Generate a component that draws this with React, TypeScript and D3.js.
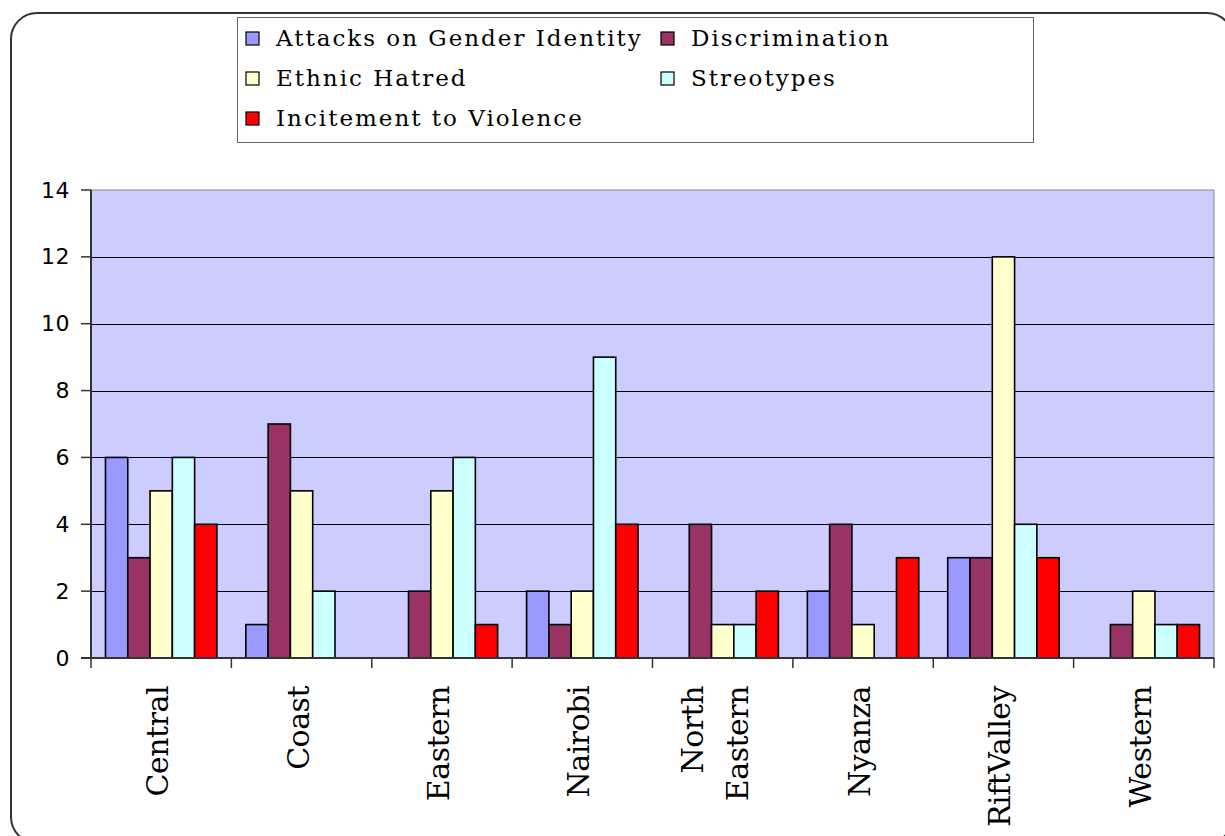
import React from "react";
import * as d3 from "d3";

const categories = ["Central", "Coast", "Eastern", "Nairobi", "North Eastern", "Nyanza", "RiftValley", "Western"];
const series = ["Attacks on Gender Identity", "Discrimination", "Ethnic Hatred", "Streotypes", "Incitement to Violence"];
const colors = ["#9999FF", "#993366", "#FFFFCC", "#CCFFFF", "#FF0000"];
const attacks = [6, 1, 0, 2, 0, 2, 3, 0];
const discrimination = [3, 7, 2, 1, 4, 4, 3, 1];
const ethnicHatred = [5, 5, 5, 2, 1, 1, 12, 2];
const streotypes = [6, 2, 6, 9, 1, 0, 4, 1];
const incitement = [4, 0, 1, 4, 2, 3, 3, 1];
const values = [attacks, discrimination, ethnicHatred, streotypes, incitement];
const yTicks = [0, 2, 4, 6, 8, 10, 12, 14];

const W = 1225, H = 836;
const plot = { left: 91, right: 1214, top: 190, bottom: 658 };

export default function App() {
  const x0 = d3.scaleBand<string>().domain(categories).range([plot.left, plot.right]).paddingInner(0).paddingOuter(0);
  const x1 = d3.scaleBand<string>().domain(series).range([0, x0.bandwidth()]).paddingInner(0).paddingOuter(0.65);
  const y = d3.scaleLinear().domain([0, 14]).range([plot.bottom, plot.top]);

  const legendItems = [
    { i: 0, x: 246, y: 38 },
    { i: 1, x: 661, y: 38 },
    { i: 2, x: 246, y: 78 },
    { i: 3, x: 661, y: 78 },
    { i: 4, x: 246, y: 118 },
  ];

  return (
    <svg width={W} height={H} style={{ position: "absolute", left: 0, top: 0, background: "#fff" }}>
      <rect x={11} y={13} width={1222} height={830} rx={26} ry={26} fill="#fff" stroke="#333" strokeWidth={2} />
      {/* legend */}
      <rect x={237.5} y={17.5} width={796} height={125} fill="#fff" stroke="#666" strokeWidth={1} />
      {legendItems.map((it) => (
        <g key={it.i}>
          <rect x={it.x} y={it.y - 6} width={13} height={13} fill={colors[it.i]} stroke="#000" strokeWidth={1.2} />
          <text x={it.x + 30} y={it.y} dominantBaseline="central" fontFamily="DejaVu Serif" fontSize={23} letterSpacing={2} fill="#000">
            {series[it.i]}
          </text>
        </g>
      ))}
      {/* plot area */}
      <rect x={plot.left} y={plot.top} width={plot.right - plot.left} height={plot.bottom - plot.top} fill="#CCCCFF" stroke="#888" strokeWidth={1} />
      {yTicks.filter((t) => t > 0 && t < 14).map((t) => (
        <line key={t} x1={plot.left} x2={plot.right} y1={Math.round(y(t)) + 0.5} y2={Math.round(y(t)) + 0.5} stroke="#000" strokeWidth={1} />
      ))}
      {/* bars */}
      {categories.map((c, ci) => (
        <g key={c} transform={`translate(${x0(c)},0)`}>
          {series.map((s, si) => {
            const v = values[si][ci];
            if (v <= 0) return null;
            return (
              <rect key={s} x={x1(s)} y={y(v)} width={x1.bandwidth()} height={y(0) - y(v)} fill={colors[si]} stroke="#000" strokeWidth={1.6} />
            );
          })}
        </g>
      ))}
      {/* axes */}
      <line x1={plot.left} x2={plot.left} y1={plot.top} y2={plot.bottom} stroke="#333" strokeWidth={2} />
      <line x1={plot.left - 10} x2={plot.right} y1={plot.bottom} y2={plot.bottom} stroke="#333" strokeWidth={2} />
      {yTicks.map((t) => (
        <g key={t}>
          <line x1={plot.left - 10} x2={plot.left} y1={y(t)} y2={y(t)} stroke="#333" strokeWidth={1.5} />
          <text x={70} y={y(t)} textAnchor="end" dominantBaseline="central" fontFamily="DejaVu Sans" fontSize={22} letterSpacing={0.5} fill="#000">
            {t}
          </text>
        </g>
      ))}
      {categories.concat(["__end"]).map((c, i) => {
        const xx = plot.left + i * x0.step();
        return <line key={c} x1={xx} x2={xx} y1={plot.bottom} y2={plot.bottom + 10} stroke="#333" strokeWidth={1.5} />;
      })}
      {categories.map((c) => {
        const cx = (x0(c) as number) + x0.bandwidth() / 2;
        const lines = c.split(" ");
        const offsets = lines.length === 1 ? [7] : [-20, 25];
        return lines.map((ln, li) => (
          <text
            key={c + li}
            transform={`translate(${cx + offsets[li]},686) rotate(-90)`}
            textAnchor="end"
            fontFamily="DejaVu Serif"
            fontSize={30}
            letterSpacing={-0.5}
            fill="#000"
          >
            {ln}
          </text>
        ));
      })}
    </svg>
  );
}
